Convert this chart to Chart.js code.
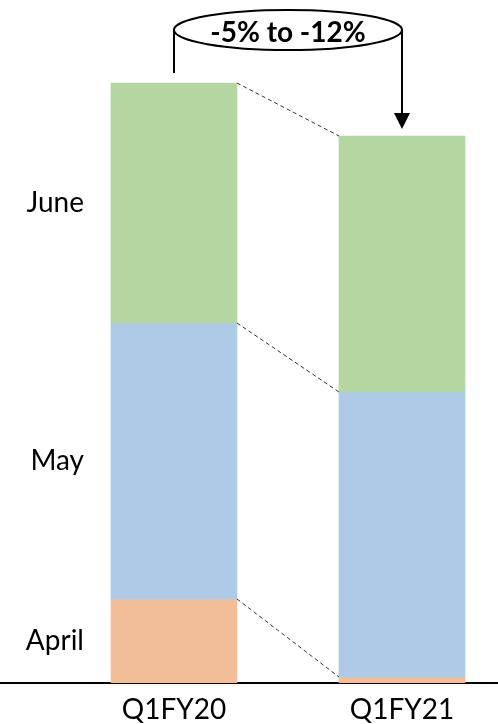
<!DOCTYPE html>
<html>
<head>
<meta charset="utf-8">
<script src="https://cdn.jsdelivr.net/npm/chart.js@4"></script>
<style>
  html, body { margin: 0; padding: 0; background: #fff; }
  #wrap { width: 498px; height: 724px; position: relative; }
</style>
</head>
<body>
<div id="wrap"><canvas id="c"></canvas></div>
<script>
// Data (relative units)
const categories = ['Q1FY20', 'Q1FY21'];
const months = ['April', 'May', 'June'];
const april = [84, 6];
const may = [276, 285];
const june = [240, 256];
const calloutText = '-5% to -12%';

const colors = { April: '#F2BE98', May: '#AECAE6', June: '#B4D6A0' };
const seriesValues = [april, may, june];

const FONT = 'Lato, "Open Sans", sans-serif';

const overlay = {
  id: 'overlay',
  afterDatasetsDraw(chart) {
    const ctx = chart.ctx;
    const metas = months.map((m, i) => chart.getDatasetMeta(i).data);
    ctx.save();
    // dashed connectors
    ctx.strokeStyle = '#333';
    ctx.lineWidth = 1;
    ctx.setLineDash([4, 3]);
    metas.forEach(d => {
      const a = d[0], b = d[1];
      ctx.beginPath();
      ctx.moveTo(a.x + a.width / 2, a.y);
      ctx.lineTo(b.x - b.width / 2, b.y);
      ctx.stroke();
    });
    ctx.setLineDash([]);
    // left category labels
    ctx.fillStyle = '#000';
    ctx.font = '28px ' + FONT;
    ctx.textAlign = 'right';
    ctx.textBaseline = 'middle';
    metas.forEach((d, i) => {
      const a = d[0];
      ctx.fillText(months[i], a.x - a.width / 2 - 27, (a.y + a.base) / 2);
    });
    // callout
    const top1 = metas[metas.length - 1][0];
    const top2 = metas[metas.length - 1][1];
    const cx = (top1.x + top2.x) / 2;
    const cy = chart.chartArea.top + 7;
    const rx = (top2.x - top1.x) / 2;
    const ry = 20;
    ctx.strokeStyle = '#000';
    ctx.lineWidth = 2;
    ctx.beginPath();
    ctx.ellipse(cx, cy, rx, ry, 0, 0, Math.PI * 2);
    ctx.stroke();
    ctx.beginPath();
    ctx.moveTo(top1.x, cy);
    ctx.lineTo(top1.x, top1.y - 10);
    ctx.moveTo(top2.x, cy);
    ctx.lineTo(top2.x, top2.y - 22);
    ctx.stroke();
    ctx.fillStyle = '#000';
    ctx.beginPath();
    ctx.moveTo(top2.x - 8, top2.y - 23);
    ctx.lineTo(top2.x + 8, top2.y - 23);
    ctx.lineTo(top2.x, top2.y - 7);
    ctx.closePath();
    ctx.fill();
    ctx.font = 'bold 28px ' + FONT;
    ctx.textAlign = 'center';
    ctx.textBaseline = 'middle';
    ctx.fillText(calloutText, cx, cy + 3);
    ctx.restore();
  }
};

new Chart(document.getElementById('c'), {
  type: 'bar',
  data: {
    datasets: months.map((m, i) => ({
      label: m,
      data: seriesValues[i].map((v, j) => ({ x: j, y: v })),
      backgroundColor: colors[m],
      borderWidth: 0,
      barThickness: 126
    }))
  },
  options: {
    responsive: true,
    maintainAspectRatio: false,
    animation: false,
    layout: { padding: { top: 23, left: 0, right: 0, bottom: 0 } },
    plugins: { legend: { display: false }, tooltip: { enabled: false } },
    scales: {
      x: {
        type: 'linear',
        stacked: true,
        offset: false,
        bounds: 'data',
        min: -0.763,
        max: 1.421,
        grid: { display: false, drawTicks: false, offset: false },
        border: { display: true, color: '#000', width: 2 },
        afterBuildTicks: s => { s.ticks = categories.map((c, i) => ({ value: i })); },
        afterFit: s => { s.height = 41; },
        ticks: {
          padding: 10,
          color: '#000',
          font: { family: FONT, size: 28 },
          callback: v => categories[v]
        }
      },
      y: {
        display: false,
        stacked: true,
        min: 0,
        max: 660
      }
    }
  },
  plugins: [overlay]
});
</script>
</body>
</html>
